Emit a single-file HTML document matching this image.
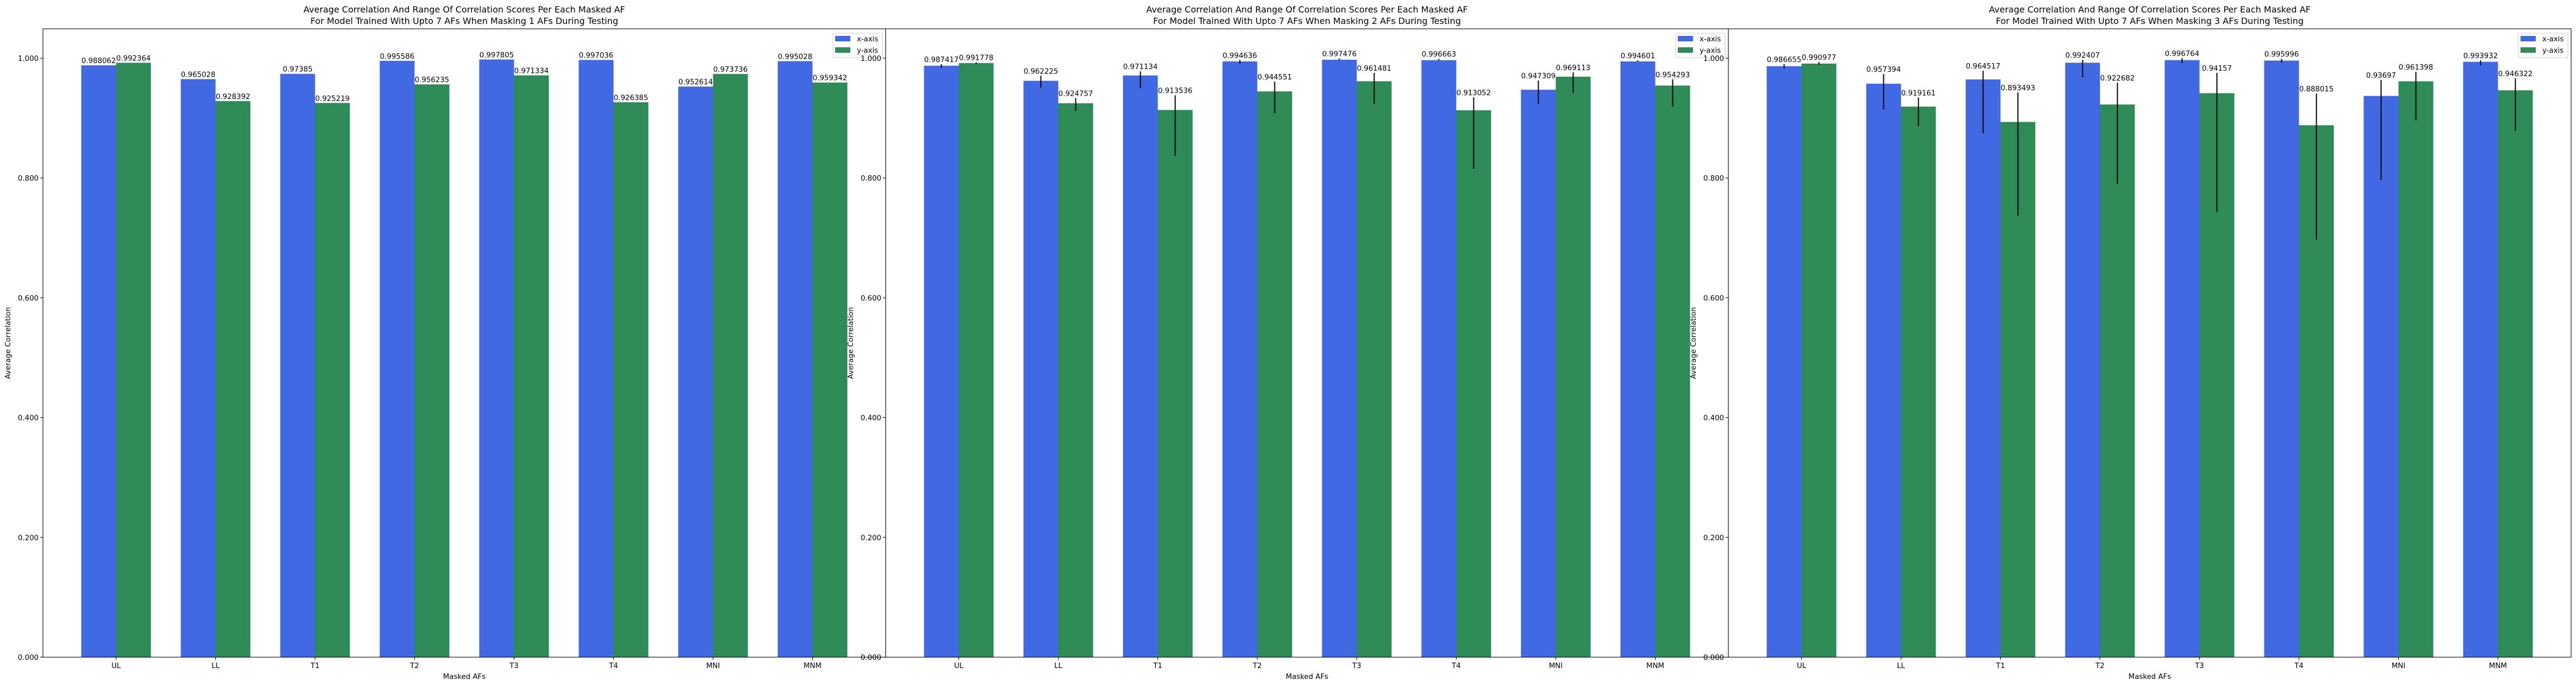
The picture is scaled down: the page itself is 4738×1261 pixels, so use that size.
<!DOCTYPE html>
<html><head><meta charset="utf-8">
<style>
html,body{margin:0;padding:0;background:#fff;}
svg{display:block;font-family:"DejaVu Sans","Liberation Sans",sans-serif;}
</style></head>
<body>
<svg id="chart" width="4738" height="1261" viewBox="0 0 4738 1261" xmlns="http://www.w3.org/2000/svg">
<rect x="0" y="0" width="4738" height="1261" fill="#fff"/>
</svg>
<script>
const categories = ["UL","LL","T1","T2","T3","T4","MNI","MNM"];
const maskCounts = [1, 2, 3];
const xMeans1 = [0.988062,0.965028,0.97385,0.995586,0.997805,0.997036,0.952614,0.995028];
const yMeans1 = [0.992364,0.928392,0.925219,0.956235,0.971334,0.926385,0.973736,0.959342];
const xMeans2 = [0.987417,0.962225,0.971134,0.994636,0.997476,0.996663,0.947309,0.994601];
const yMeans2 = [0.991778,0.924757,0.913536,0.944551,0.961481,0.913052,0.969113,0.954293];
const xMeans3 = [0.986655,0.957394,0.964517,0.992407,0.996764,0.995996,0.93697,0.993932];
const yMeans3 = [0.990977,0.919161,0.893493,0.922682,0.94157,0.888015,0.961398,0.946322];
const xMin2 = [0.984,0.951,0.950,0.991,0.9965,0.9965,0.9237,0.994];
const xMax2 = [0.990,0.9706,0.978,0.997,0.9995,0.999,0.9628,0.9964];
const yMin2 = [0.9904,0.9122,0.837,0.908,0.9237,0.8156,0.9419,0.919];
const yMax2 = [0.993,0.9334,0.938,0.961,0.9755,0.9346,0.9764,0.9646];
const xMin3 = [0.9828,0.9146,0.8747,0.9682,0.9918,0.9927,0.7966,0.9882];
const xMax3 = [0.990,0.9737,0.9791,0.9973,1.0,0.999,0.9637,0.9964];
const yMin3 = [0.9891,0.8865,0.7369,0.7902,0.7430,0.6966,0.8965,0.8792];
const yMax3 = [0.9937,0.9343,0.9428,0.9591,0.9755,0.941,0.9773,0.9664];
const yTicks = [0,0.2,0.4,0.6,0.8,1.0];
const yTickLabels = ["0.000","0.200","0.400","0.600","0.800","1.000"];

const panels = [
  {xm:xMeans1, ym:yMeans1, xlo:null, xhi:null, ylo:null, yhi:null},
  {xm:xMeans2, ym:yMeans2, xlo:xMin2, xhi:xMax2, ylo:yMin2, yhi:yMax2},
  {xm:xMeans3, ym:yMeans3, xlo:xMin3, xhi:xMax3, ylo:yMin3, yhi:yMax3}
];
const NS = "http://www.w3.org/2000/svg";
const svg = document.getElementById('chart');
const TOP = 53, BOT = 1208, W = 1550, XMIN = -0.735, XMAX = 7.735, YMAX = 1.049;
const BLUE = "#4169e1", GREEN = "#2e8b57";
function mk(tag, attrs, parent){const e=document.createElementNS(NS,tag);for(const k in attrs)e.setAttribute(k,attrs[k]);(parent||svg).appendChild(e);return e;}
function txt(s, attrs, parent){const e=mk('text',attrs,parent);e.textContent=s;return e;}

panels.forEach((p, pi) => {
  const L = 79 + pi*1550;
  const xs = v => L + (v - XMIN)/(XMAX - XMIN)*W;
  const ys = v => BOT - v/YMAX*(BOT-TOP);
  const g = mk('g', {});
  
  
  const bg = mk('rect', {x:L, y:TOP, width:W, height:BOT-TOP, fill:'#fff'}, g);
  
  
  const bw = xs(0.35) - xs(0);
  categories.forEach((c, i) => {
    [[p.xm, BLUE, -1, p.xlo, p.xhi, 'x'], [p.ym, GREEN, 0, p.ylo, p.yhi, 'y']].forEach(([arr, col, off, lo, hi, ax]) => {
      const v = arr[i];
      const x0 = xs(i) + off*bw;
      const r = mk('rect', {x:x0, y:ys(v), width:bw, height:BOT-ys(v), fill:col}, g);
      
      
      let labelTop = ys(v);
      if (lo) {
        const l = mk('line', {x1:x0+bw/2, x2:x0+bw/2, y1:ys(hi[i]), y2:ys(lo[i]), stroke:'#000', 'stroke-width':2}, g);
        
        
        labelTop = Math.min(labelTop, ys(hi[i]));
      }
      const t = txt(String(v), {x:x0+bw/2, y:labelTop-4, 'font-size':13.3, 'text-anchor':'middle', fill:'#000'}, g);
      
      
    });
    const tk = mk('line', {x1:xs(i), x2:xs(i), y1:BOT, y2:BOT+5, stroke:'#000', 'stroke-width':1.1}, g);
    
    
    const tl = txt(c, {x:xs(i), y:BOT+20, 'font-size':13.3, 'text-anchor':'middle', fill:'#000'}, g);
    
    
  });
  yTicks.forEach((v, k) => {
    const tk = mk('line', {x1:L-5, x2:L, y1:ys(v), y2:ys(v), stroke:'#000', 'stroke-width':1.1}, g);
    
    
    const tl = txt(yTickLabels[k], {x:L-8, y:ys(v)+5, 'font-size':13.3, 'text-anchor':'end', fill:'#000'}, g);
    
    
  });
  const fr = mk('rect', {x:L, y:TOP, width:W, height:BOT-TOP, fill:'none', stroke:'#000', 'stroke-width':1.1}, g);
  
  
  const t1 = txt('Average Correlation And Range Of Correlation Scores Per Each Masked AF', {x:L+W/2, y:23, 'font-size':16, 'text-anchor':'middle', fill:'#000'}, g);
  
  
  const t2 = txt('For Model Trained With Upto 7 AFs When Masking ' + maskCounts[pi] + ' AFs During Testing', {x:L+W/2, y:44, 'font-size':16, 'text-anchor':'middle', fill:'#000'}, g);
  
  
  const xl = txt('Masked AFs', {x:L+W/2, y:1248, 'font-size':13.3, 'text-anchor':'middle', fill:'#000'}, g);
  
  
  const yl = txt('Average Correlation', {x:0, y:0, 'font-size':13.3, 'text-anchor':'middle', fill:'#000', transform:'translate(' + (L-60) + ',' + ((TOP+BOT)/2) + ') rotate(-90)'}, g);
  
  
  const lx = L + W - 97, ly = 61;
  const lg = mk('g', {}, g);
  
  
  mk('rect', {x:lx, y:ly, width:91, height:45, rx:3, fill:'#fff', 'fill-opacity':0.8, stroke:'#ccc', 'stroke-width':1}, lg);
  const e1 = mk('rect', {x:lx+4, y:ly+5, width:28, height:10, fill:BLUE}, lg);
  
  
  const e2 = mk('rect', {x:lx+4, y:ly+26, width:28, height:10, fill:GREEN}, lg);
  
  
  const lt1 = txt('x-axis', {x:lx+44, y:ly+15, 'font-size':13.3, fill:'#000'}, lg);
  
  
  const lt2 = txt('y-axis', {x:lx+44, y:ly+36, 'font-size':13.3, fill:'#000'}, lg);
  
  
});
</script>
</body></html>
